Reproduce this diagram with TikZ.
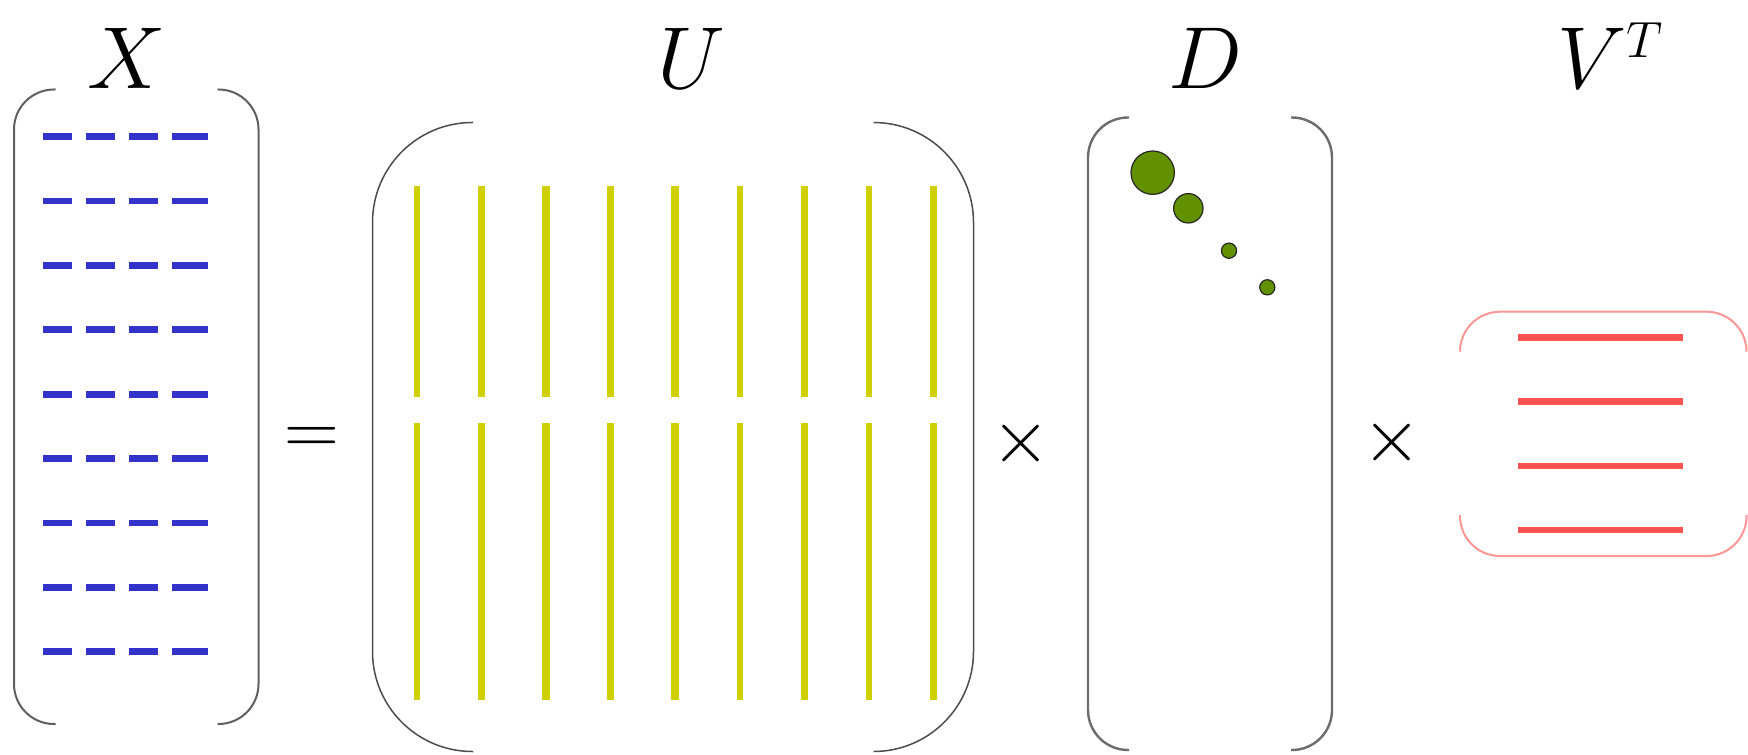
\documentclass[tikz,border=0pt]{standalone}
\usepackage{graphicx}
\definecolor{xblue}{RGB}{51,51,204}
\definecolor{uyel}{RGB}{208,208,0}
\definecolor{vred}{RGB}{255,82,82}
\definecolor{vpink}{RGB}{255,150,150}
\definecolor{dgreen}{RGB}{98,145,0}
\definecolor{brkgray}{RGB}{95,95,95}
\newcommand{\biglbl}[1]{\scalebox{1.7685}{\fontsize{24.88}{30}\selectfont$#1$}}
\newcommand{\bigop}[1]{\scalebox{1.527}{\fontsize{24.88}{30}\selectfont$#1$}}
\newcommand{\smallT}{\mbox{\fontsize{14.2}{16}\selectfont$T$}}
\begin{document}
\begin{tikzpicture}[x=0.5pt,y=-0.5pt,
  brk/.style={draw=brkgray, line width=1pt},
  lbl/.style={anchor=base, inner sep=0pt},
  op/.style={inner sep=0pt},
  xdash/.style={draw=xblue, line width=3.4pt},
  ucol/.style={draw=uyel, line width=3.2pt},
  ucolw/.style={draw=uyel, line width=3.8pt},
  vrow/.style={draw=vred, line width=3.3pt},
  dot/.style={circle, draw=black!85, line width=0.6pt, fill=dgreen, inner sep=0pt, minimum size=#1}
]
\useasboundingbox (0,0) rectangle (1748,754);

% labels
\node[lbl] (lX) at (127,89) {\biglbl{X}};
\node[lbl] (lU) at (691,89) {\biglbl{U}};
\node[lbl] (lD) at (1205,89) {\biglbl{D}};
\node[lbl] (lV) at (1611,89) {\biglbl{V^{\smallT}}};

% operators
\node[op] (eq) at (311.7,441) {\bigop{=}};
\node[op] (t1) at (1021.5,443.5) {\bigop{\times}};
\node[op] (t2) at (1392,442.5) {\bigop{\times}};

% X matrix
\draw[brk, rounded corners=20pt] (55.5,89.5) -- (14,89.5) -- (14,724) -- (55.5,724);
\draw[brk, rounded corners=20pt] (217.5,89.5) -- (258.5,89.5) -- (258.5,724) -- (217.5,724);
\foreach \i in {0,...,8}{
  \pgfmathsetmacro{\yy}{136.7+64.375*\i}
  \draw[xdash] (42.7,\yy) -- (71.7,\yy);
  \draw[xdash] (86,\yy) -- (115,\yy);
  \draw[xdash] (129,\yy) -- (157.7,\yy);
  \draw[xdash] (172,\yy) -- (207.7,\yy);
}

% U matrix
\draw[brk, draw=black!70, line width=0.75pt, rounded corners=50pt] (473,122.5) -- (372.5,122.5) -- (372.5,751.5) -- (473,751.5);
\draw[brk, draw=black!70, line width=0.75pt, rounded corners=50pt] (873.5,122.5) -- (973.5,122.5) -- (973.5,751.5) -- (873.5,751.5);
\foreach \i in {0,1,3,5,7,8}{
  \pgfmathsetmacro{\xx}{416.7+64.6*\i}
  \draw[ucol] (\xx,186) -- (\xx,397);
  \draw[ucol] (\xx,423) -- (\xx,700);
}
\foreach \i in {2,4,6}{
  \pgfmathsetmacro{\xx}{416.7+64.6*\i}
  \draw[ucolw] (\xx,186) -- (\xx,397);
  \draw[ucolw] (\xx,423) -- (\xx,700);
}

% D matrix
\draw[brk, line width=1.2pt, draw=gray!85!black, rounded corners=20pt] (1129,117.5) -- (1088,117.5) -- (1088,750) -- (1129,750);
\draw[brk, line width=1.2pt, draw=gray!85!black, rounded corners=20pt] (1291,117.5) -- (1332,117.5) -- (1332,750) -- (1291,750);
\node[dot=21.7pt] (d1) at (1152.7,172.7) {};
\node[dot=14.7pt] (d2) at (1188.3,208.3) {};
\node[dot=7.6pt] (d3) at (1229,250.7) {};
\node[dot=7.6pt] (d4) at (1267.3,287.3) {};

% V^T matrix
\draw[draw=vpink, line width=1pt, rounded corners=20pt] (1460,351.7) -- (1460,311.7) -- (1746.5,311.7) -- (1746.5,351.7);
\draw[draw=vpink, line width=1pt, rounded corners=20pt] (1460,515) -- (1460,556) -- (1746.5,556) -- (1746.5,515);
\foreach \yy in {337.3,401.7,466,530}{
  \draw[vrow] (1518,\yy) -- (1683,\yy);
}
\end{tikzpicture}
\end{document}
